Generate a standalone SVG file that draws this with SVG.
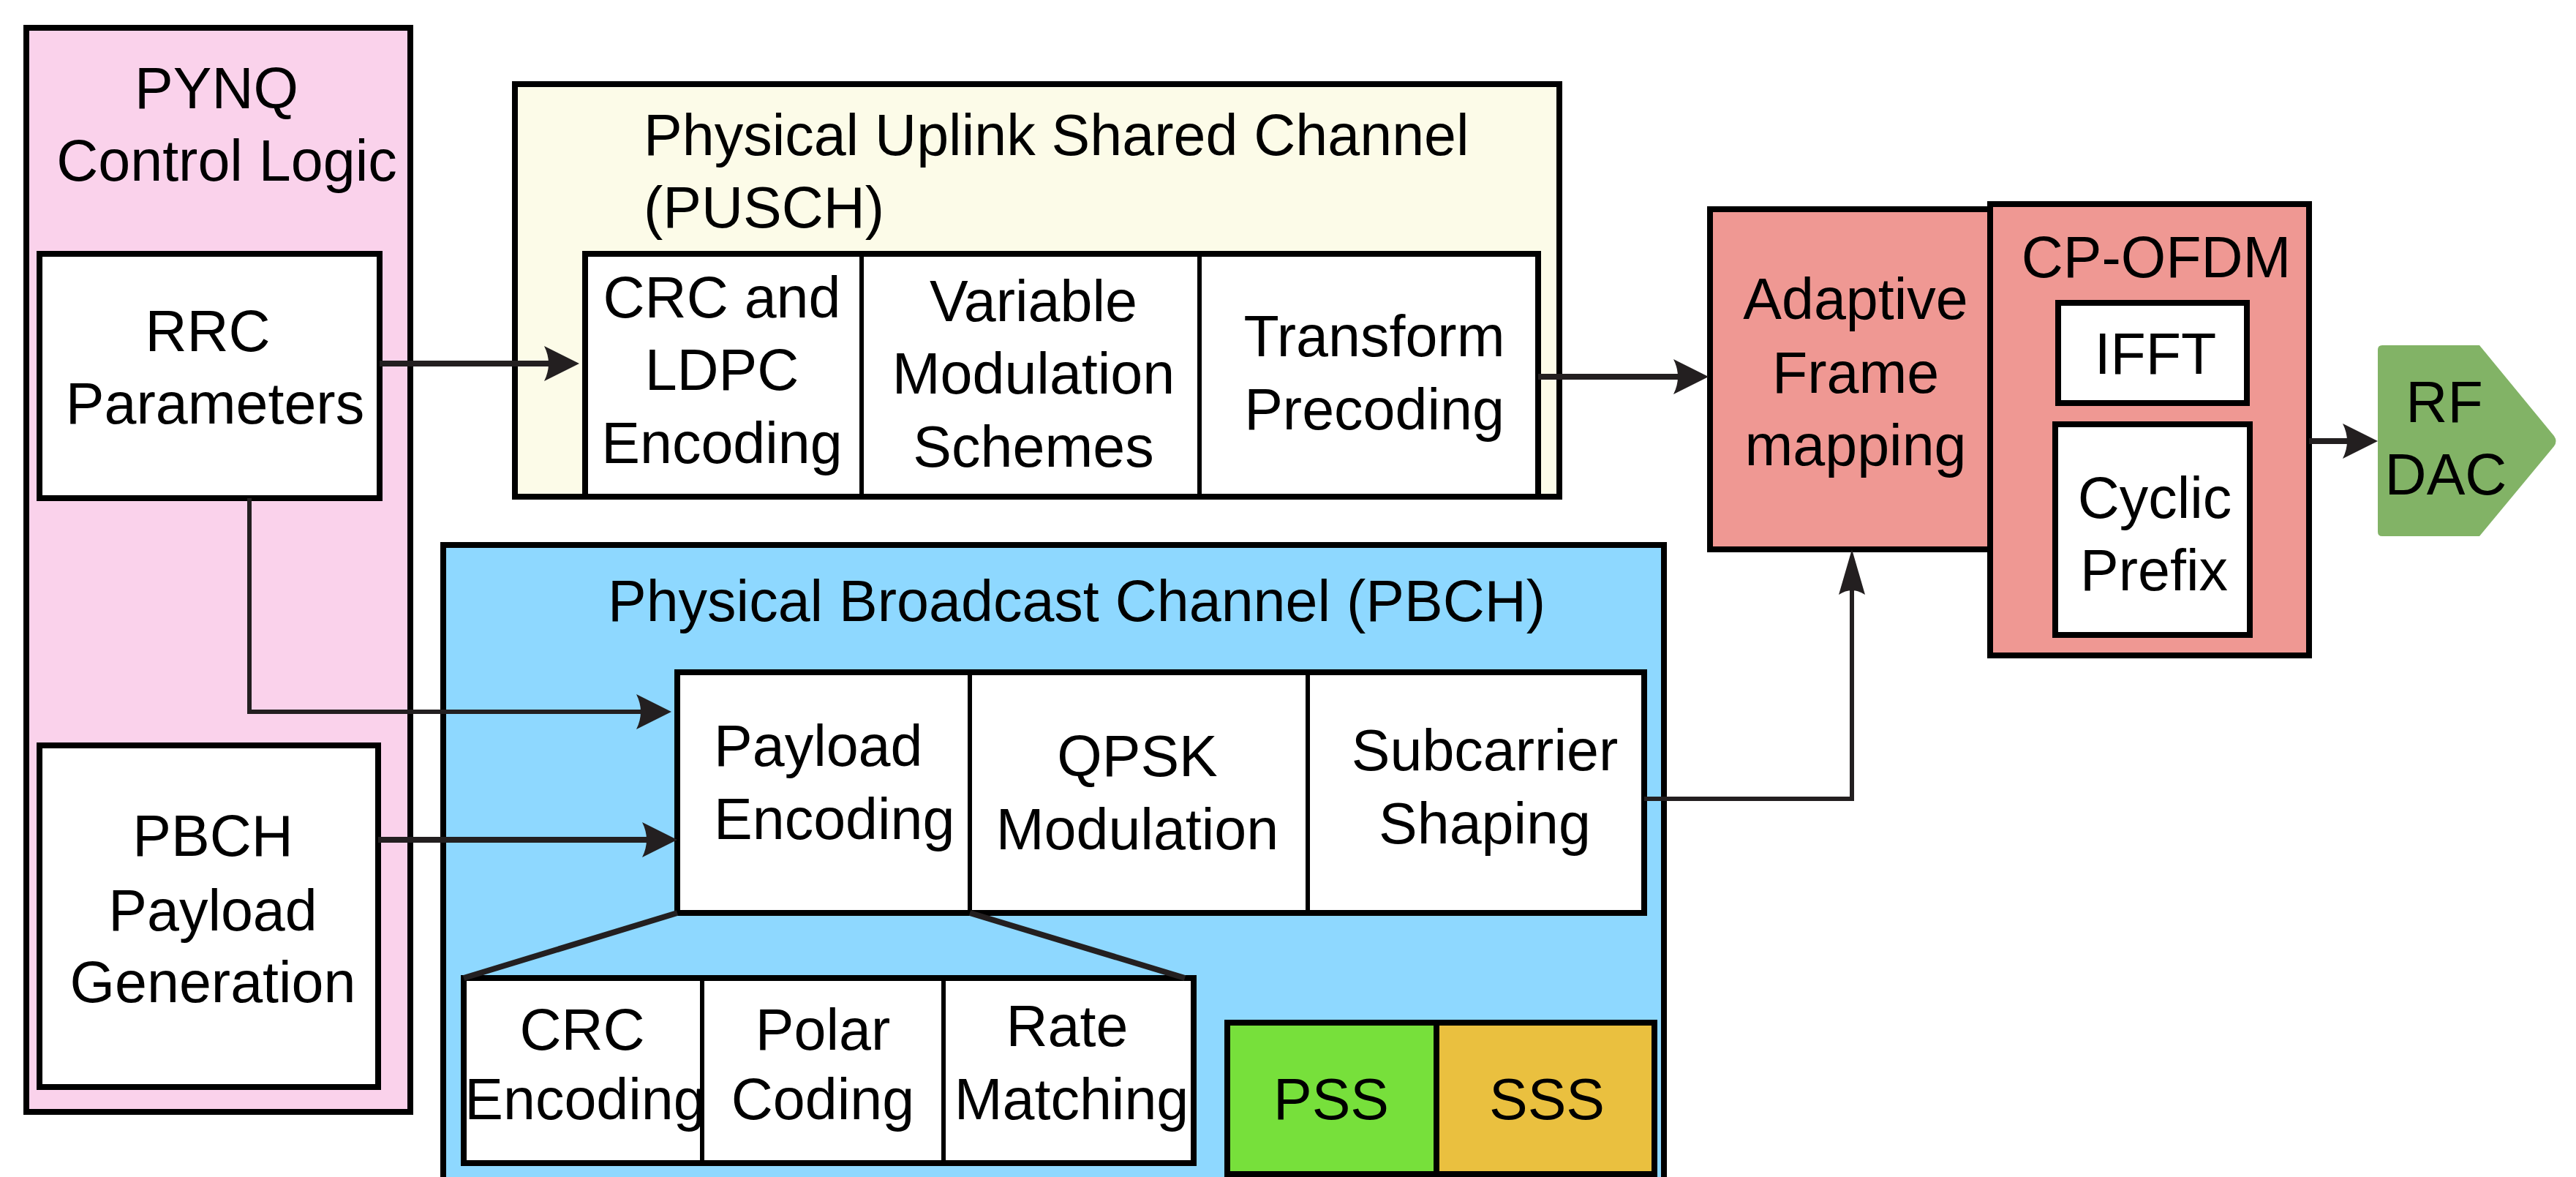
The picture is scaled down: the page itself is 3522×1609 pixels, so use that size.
<svg xmlns="http://www.w3.org/2000/svg" width="3522" height="1609" viewBox="0 0 3522 1609">
<style>
text{font-family:"Liberation Sans",Arial,Helvetica,sans-serif;font-size:79px;fill:#000;text-anchor:middle}
.box{stroke:#000;stroke-width:8}
.div{stroke:#000;stroke-width:6;fill:none}
.w{fill:#fff}
.con{stroke:#231f20;stroke-width:8;fill:none}
.thin{stroke-width:6}
</style>
<defs>
<marker id="arr" markerUnits="userSpaceOnUse" orient="auto" overflow="visible" refX="0" refY="0" markerWidth="60" markerHeight="60">
<path d="M20,0 L-28,-24 Q-16,0 -28,24 Z" fill="#231f20"/>
</marker>
<marker id="arr2" markerUnits="userSpaceOnUse" orient="auto" overflow="visible" refX="0" refY="0" markerWidth="80" markerHeight="60">
<path d="M20,0 L-42,-18 Q-30,0 -42,18 Z" fill="#231f20"/>
</marker>
</defs>
<rect width="3522" height="1609" fill="#fff"/>

<g id="pynq">
<rect class="box" x="36" y="38" width="525" height="1482" fill="#fad2eb" stroke-width="7"/>
<text x="296" y="148">PYNQ</text>
<text x="310" y="247">Control Logic</text>
</g>

<g id="rrc">
<rect class="box w" x="54" y="347" width="465" height="334" stroke-width="9"/>
<text x="284" y="480">RRC</text>
<text x="294" y="579">Parameters</text>
</g>

<g id="pbch-payload-gen">
<rect class="box w" x="54" y="1019" width="463" height="467" stroke-width="9"/>
<text x="291" y="1170">PBCH</text>
<text x="291" y="1272">Payload</text>
<text x="291" y="1370">Generation</text>
</g>

<g id="pusch">
<rect class="box" x="704" y="115" width="1428" height="564" fill="#fcfbe8"/>
<text x="880" y="212" style="text-anchor:start">Physical Uplink Shared Channel</text>
<text x="880" y="311" style="text-anchor:start">(PUSCH)</text>
</g>

<g id="pusch-row">
<rect class="box w" x="800" y="347" width="1303" height="332"/>
<line class="div" x1="1178" y1="347" x2="1178" y2="679"/>
<line class="div" x1="1640" y1="347" x2="1640" y2="679"/>
<text x="987" y="434">CRC and</text>
<text x="987" y="533">LDPC</text>
<text x="987" y="633">Encoding</text>
<text x="1413" y="439">Variable</text>
<text x="1413" y="538">Modulation</text>
<text x="1413" y="638">Schemes</text>
<text x="1879" y="487">Transform</text>
<text x="1879" y="587">Precoding</text>
</g>

<g id="pbch">
<rect class="box" x="606" y="745" width="1669" height="900" fill="#8ed8ff"/>
<text x="1472" y="849">Physical Broadcast Channel (PBCH)</text>
</g>

<g id="pbch-row">
<rect class="box w" x="926" y="919" width="1322" height="329"/>
<line class="div" x1="1326" y1="919" x2="1326" y2="1248"/>
<line class="div" x1="1788" y1="919" x2="1788" y2="1248"/>
<text x="976" y="1047" style="text-anchor:start">Payload</text>
<text x="976" y="1147" style="text-anchor:start">Encoding</text>
<text x="1555" y="1061">QPSK</text>
<text x="1555" y="1161">Modulation</text>
<text x="2030" y="1053">Subcarrier</text>
<text x="2030" y="1153">Shaping</text>
</g>

<g id="payload-detail">
<rect class="box w" x="634" y="1337" width="998" height="253"/>
<line class="div" x1="960" y1="1337" x2="960" y2="1590"/>
<line class="div" x1="1290" y1="1337" x2="1290" y2="1590"/>
<text x="796" y="1435">CRC</text>
<text x="800" y="1530">Encoding</text>
<text x="1125" y="1435">Polar</text>
<text x="1125" y="1530">Coding</text>
<text x="1459" y="1430">Rate</text>
<text x="1465" y="1530">Matching</text>
</g>

<g id="pss-sss">
<rect class="box" x="1678" y="1398" width="286" height="207" fill="#77e03b"/>
<rect class="box" x="1964" y="1398" width="298" height="207" fill="#eac03f"/>
<text x="1820" y="1530">PSS</text>
<text x="2115" y="1530">SSS</text>
</g>

<g id="adaptive">
<rect class="box" x="2338" y="286" width="383" height="465" fill="#ef9893" stroke-width="10"/>
<text x="2537" y="436">Adaptive</text>
<text x="2537" y="537">Frame</text>
<text x="2537" y="636">mapping</text>
</g>

<g id="cp-ofdm">
<rect class="box" x="2721" y="279" width="436" height="617" fill="#ef9893" stroke-width="9"/>
<text x="2948" y="379">CP-OFDM</text>
<rect class="box w" x="2814" y="414" width="258" height="137" stroke-width="5"/>
<text x="2947" y="511">IFFT</text>
<rect class="box w" x="2810" y="580" width="266" height="288" stroke-width="7"/>
<text x="2946" y="708">Cyclic</text>
<text x="2945" y="807">Prefix</text>
</g>

<g id="rf-dac">
<path d="M3257,472 H3390 L3492,596 Q3497,603 3492,610 L3390,733 H3257 Q3251,733 3251,727 V478 Q3251,472 3257,472 Z" fill="#82b366"/>
<text x="3342" y="577">RF</text>
<text x="3344" y="676">DAC</text>
</g>

<g id="connectors">
<path class="con" d="M519,497 H772" marker-end="url(#arr)"/>
<path class="con" d="M2103,515 H2316" marker-end="url(#arr)"/>
<path class="con thin" d="M341,681 V973 H898" marker-end="url(#arr)"/>
<path class="con" d="M517,1148 H906" marker-end="url(#arr)"/>
<path class="con thin" d="M2248,1092 H2532 V771" marker-end="url(#arr2)"/>
<path class="con" d="M3157,603 H3231" marker-end="url(#arr)"/>
<path class="con" d="M926,1248 L634,1337"/>
<path class="con" d="M1326,1248 L1620,1337"/>
</g>
</svg>
